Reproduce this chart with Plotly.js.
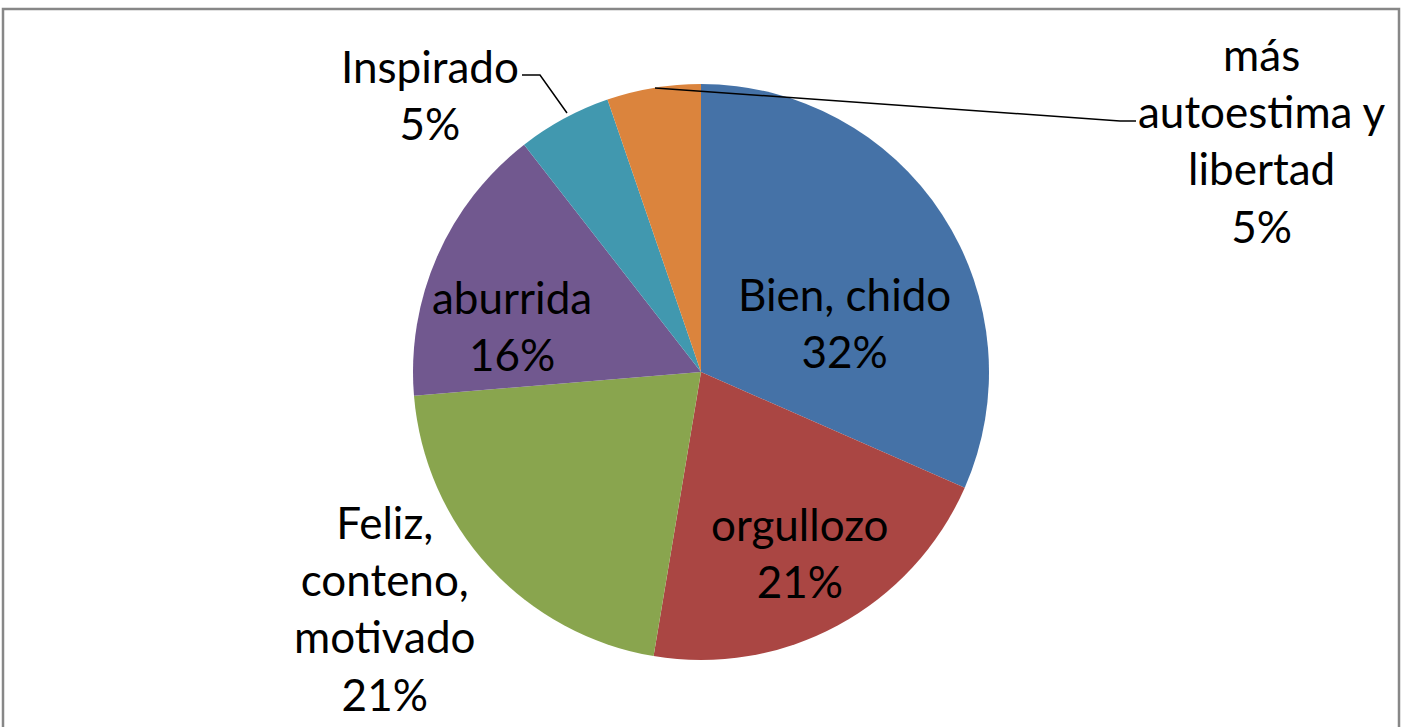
<!DOCTYPE html>
<html>
<head>
<meta charset="utf-8">
<script src="https://cdn.plot.ly/plotly-3.0.1.min.js"></script>
<style>html,body{margin:0;padding:0;background:#fff;}#chart{width:1403px;height:727px;}</style>
</head>
<body>
<div id="chart"></div>
<script>
// Data
const labels = ["Bien, chido", "orgullozo", "Feliz, conteno, motivado", "aburrida", "Inspirado", "más autoestima y libertad"];
const values = [6, 4, 4, 3, 1, 1];
const colors = ["#4572A7", "#AA4643", "#89A54E", "#71588F", "#4198AF", "#DB843D"];
// Label display text (line breaks as in the chart)
const labelLines = ["Bien, chido", "orgullozo", "Feliz,<br>conteno,<br>motivado", "aburrida", "Inspirado", "más<br>autoestima y<br>libertad"];

const W = 1403, H = 727;
const px = x => x / W;
const py = y => 1 - y / H;

const total = values.reduce((a, b) => a + b, 0);
const pct = values.map(v => Math.round(v / total * 100) + "%");

// label block centres (pixels)
const labelPos = [[845, 322], [800, 552], [385, 608], [512, 325], [430, 95], [1262, 140]];

const FONT = "Lato, 'Open Sans', sans-serif";
const annotations = labels.map((l, i) => ({
  xref: "paper", yref: "paper",
  x: px(labelPos[i][0]), y: py(labelPos[i][1]),
  xanchor: "center", yanchor: "middle",
  text: labelLines[i] + "<br>" + pct[i],
  showarrow: false,
  align: "center",
  font: {family: FONT, size: 44, color: "#000"}
}));

const path = pts => "M " + pts.map(p => px(p[0]) + "," + py(p[1])).join(" L ");

const shapes = [
  {type: "rect", xref: "paper", yref: "paper", x0: px(3), x1: px(1399), y0: -0.2, y1: py(9),
   line: {color: "#878787", width: 2.5}, fillcolor: "rgba(0,0,0,0)"},
  {type: "path", xref: "paper", yref: "paper", path: path([[522, 75], [540, 75], [567, 113]]),
   line: {color: "#000", width: 1.5}},
  {type: "path", xref: "paper", yref: "paper", path: path([[1136, 121], [1120, 121], [655, 88]]),
   line: {color: "#000", width: 1.5}}
];

const trace = {
  type: "pie",
  labels: labels,
  values: values,
  sort: false,
  direction: "clockwise",
  rotation: 0,
  marker: {colors: colors, line: {width: 0}},
  textinfo: "none",
  hoverinfo: "label+percent",
  domain: {x: [px(413), px(989)], y: [py(660), py(84)]},
  automargin: false
};

const layout = {
  width: W, height: H,
  margin: {l: 0, r: 0, t: 0, b: 0},
  showlegend: false,
  paper_bgcolor: "#fff",
  annotations: annotations,
  shapes: shapes
};

Plotly.newPlot("chart", [trace], layout, {displayModeBar: false, staticPlot: true});
</script>
</body>
</html>
